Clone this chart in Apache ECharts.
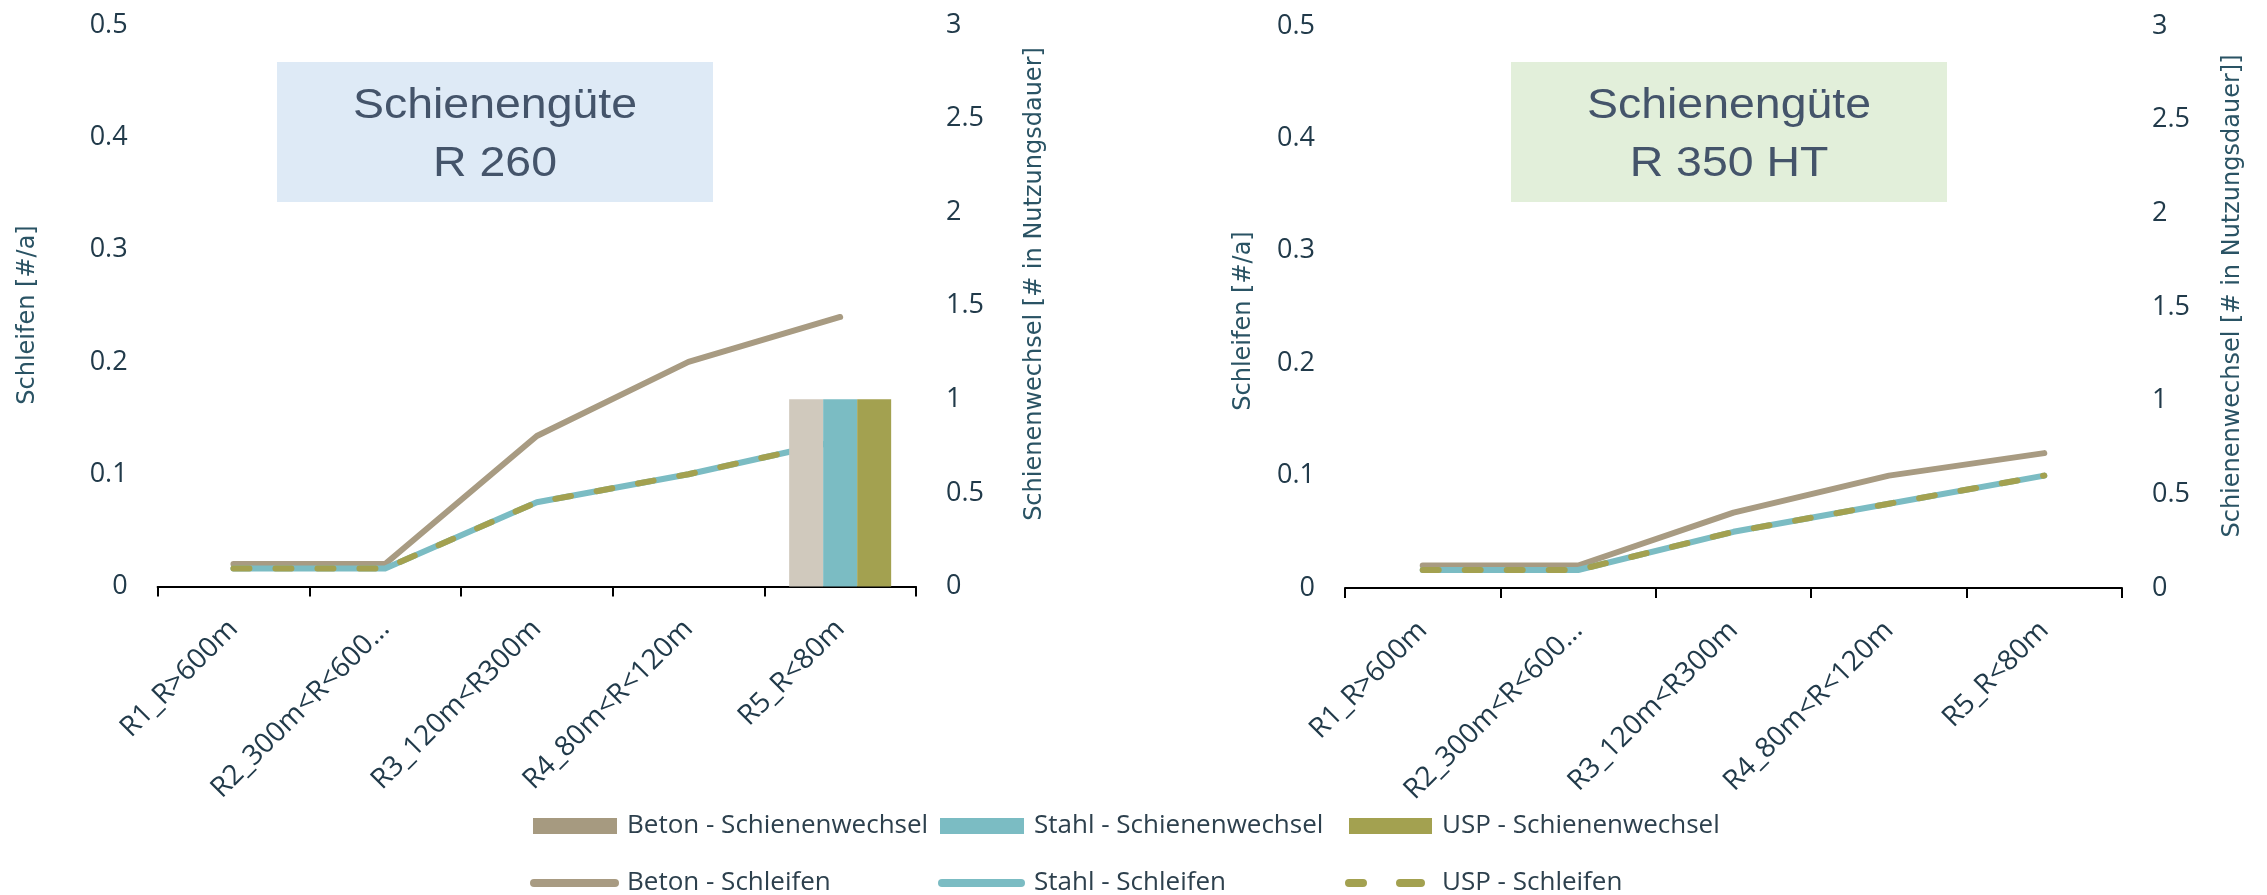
<!DOCTYPE html>
<html>
<head>
<meta charset="utf-8">
<script src="https://cdn.jsdelivr.net/npm/echarts@6/dist/echarts.min.js"></script>
<style>
  html, body { margin: 0; padding: 0; background: #ffffff; }
  #chart { width: 2267px; height: 895px; }
</style>
</head>
<body>
<div id="chart"></div>
<script>
// Curve-radius classes on the x axis
const categories = ['R1_R>600m', 'R2_300m<R<600m', 'R3_120m<R300m', 'R4_80m<R<120m', 'R5_R<80m'];

// Rail grade R 260 – grinding per year (left axis) and rail changes in service life (right axis)
const betonSchleifenR260 = [0.02, 0.02, 0.134, 0.2, 0.24];
const stahlSchleifenR260 = [0.016, 0.016, 0.075, 0.1, 0.13];
const uspSchleifenR260   = [0.016, 0.016, 0.075, 0.1, 0.13];
const betonWechselR260   = [0, 0, 0, 0, 1];
const stahlWechselR260   = [0, 0, 0, 0, 1];
const uspWechselR260     = [0, 0, 0, 0, 1];

// Rail grade R 350 HT
const betonSchleifenR350 = [0.02, 0.02, 0.067, 0.1, 0.12];
const stahlSchleifenR350 = [0.016, 0.016, 0.05, 0.075, 0.1];
const uspSchleifenR350   = [0.016, 0.016, 0.05, 0.075, 0.1];
const betonWechselR350   = [0, 0, 0, 0, 0];
const stahlWechselR350   = [0, 0, 0, 0, 0];
const uspWechselR350     = [0, 0, 0, 0, 0];

// Axis scales
const schleifenAxis = { min: 0, max: 0.5, interval: 0.1 };
const wechselAxis   = { min: 0, max: 3, interval: 0.5 };

// Panel texts
const panelTitles = [['Schienengüte', 'R 260'], ['Schienengüte', 'R 350 HT']];
const leftAxisNames = ['Schleifen [#/a]', 'Schleifen [#/a]'];
const rightAxisNames = ['Schienenwechsel [# in Nutzungsdauer]', 'Schienenwechsel [# in Nutzungsdauer]]'];

const NAMES = {
  betonW: 'Beton - Schienenwechsel',
  stahlW: 'Stahl - Schienenwechsel',
  uspW: 'USP - Schienenwechsel',
  betonS: 'Beton - Schleifen',
  stahlS: 'Stahl - Schleifen',
  uspS: 'USP - Schleifen'
};

const COL = {
  betonLine: '#A89B82',
  betonBar: '#D0C9BD',
  betonKey: '#A69A80',
  stahl: '#7BBCC3',
  usp: '#A3A150',
  tick: '#213A4A',
  axisName: '#2A5364',
  legendText: '#2D404D',
  title: '#44546A'
};

const panels = [
  {
    grid: { left: 157.6, top: 25, width: 758.4, height: 561.5 },
    box: { x: 277, y: 62, width: 436, height: 140, fill: '#DEEAF6' },
    leftName: { x: 28, y: 315 },
    rightName: { x: 1035, y: 284 },
    lines: [betonSchleifenR260, stahlSchleifenR260, uspSchleifenR260],
    bars: [betonWechselR260, stahlWechselR260, uspWechselR260]
  },
  {
    grid: { left: 1345, top: 26, width: 777, height: 562 },
    box: { x: 1511, y: 62, width: 436, height: 140, fill: '#E2EFDA' },
    leftName: { x: 1244, y: 321 },
    rightName: { x: 2233, y: 296 },
    lines: [betonSchleifenR350, stahlSchleifenR350, uspSchleifenR350],
    bars: [betonWechselR350, stahlWechselR350, uspWechselR350]
  }
];

const grids = [], xAxes = [], yAxes = [], series = [], graphics = [];

panels.forEach((p, i) => {
  grids.push(Object.assign({ containLabel: false }, p.grid));

  xAxes.push({
    type: 'category',
    gridIndex: i,
    data: categories,
    boundaryGap: true,
    axisLine: { show: true, lineStyle: { color: '#000000', width: 2 } },
    axisTick: { show: true, length: 10, interval: 0, lineStyle: { color: '#000000', width: 2 } },
    axisLabel: {
      interval: 0,
      rotate: 45,
      margin: 38,
      fontFamily: 'Open Sans',
      fontSize: 28,
      color: COL.tick,
      formatter: v => (v.length > 13 ? v.slice(0, 13) + '...' : v)
    },
    splitLine: { show: false }
  });

  yAxes.push({
    type: 'value',
    gridIndex: i,
    position: 'left',
    min: schleifenAxis.min, max: schleifenAxis.max, interval: schleifenAxis.interval,
    axisLine: { show: false }, axisTick: { show: false }, splitLine: { show: false },
    axisLabel: { margin: 30, fontFamily: 'Open Sans', fontSize: 27, color: COL.tick }
  });
  yAxes.push({
    type: 'value',
    gridIndex: i,
    position: 'right',
    min: wechselAxis.min, max: wechselAxis.max, interval: wechselAxis.interval,
    axisLine: { show: false }, axisTick: { show: false }, splitLine: { show: false },
    axisLabel: { margin: 30, fontFamily: 'Open Sans', fontSize: 27, color: COL.tick }
  });

  // Rail changes as grouped bars on the right axis, drawn above the lines
  const barDefs = [
    [NAMES.betonW, COL.betonBar],
    [NAMES.stahlW, COL.stahl],
    [NAMES.uspW, COL.usp]
  ];
  barDefs.forEach(([name, color], k) => {
    series.push({
      type: 'bar',
      name: name,
      xAxisIndex: i,
      yAxisIndex: 2 * i + 1,
      data: p.bars[k],
      barWidth: 34,
      barGap: '0%',
      itemStyle: { color: color },
      z: 5
    });
  });

  // Grinding intervals as lines on the left axis
  const lineDefs = [
    [NAMES.betonS, COL.betonLine, 'solid'],
    [NAMES.stahlS, COL.stahl, 'solid'],
    [NAMES.uspS, COL.usp, [16, 26]]
  ];
  lineDefs.forEach(([name, color, dash], k) => {
    series.push({
      type: 'line',
      name: name,
      xAxisIndex: i,
      yAxisIndex: 2 * i,
      data: p.lines[k],
      symbol: 'none',
      itemStyle: { color: color },
      lineStyle: { color: color, width: 6, type: dash, cap: 'round', join: 'round' },
      z: 2 + k * 0.1
    });
  });

  // Grade caption box
  graphics.push({
    type: 'rect',
    shape: { x: p.box.x, y: p.box.y, width: p.box.width, height: p.box.height },
    style: { fill: p.box.fill },
    z: 0
  });
  const cx = p.box.x + p.box.width / 2;
  [106, 164].forEach((ty, li) => {
    graphics.push({
      type: 'text',
      x: cx, y: ty,
      scaleX: 1.08,
      style: {
        text: panelTitles[i][li],
        fontFamily: 'Liberation Sans',
        fontSize: 43,
        fill: COL.title,
        align: 'center',
        verticalAlign: 'middle'
      },
      z: 1
    });
  });

  // Axis titles, reading bottom to top
  [[p.leftName, leftAxisNames[i]], [p.rightName, rightAxisNames[i]]].forEach(([pos, txt]) => {
    graphics.push({
      type: 'text',
      x: pos.x, y: pos.y,
      rotation: Math.PI / 2,
      style: {
        text: txt,
        fontFamily: 'DejaVu Sans',
        fontSize: 24,
        fill: COL.axisName,
        align: 'center',
        verticalAlign: 'middle'
      },
      z: 1
    });
  });
});

// Legend: two rows of three entries, one component per entry
const roundLine = w => `path://M4,0 H${w - 4} A4,4 0 0 1 ${w - 4},8 H4 A4,4 0 0 1 4,0 Z`;
const dashedLine = 'path://M4,0 H18 A4,4 0 0 1 18,8 H4 A4,4 0 0 1 4,0 Z M55,0 H76 A4,4 0 0 1 76,8 H55 A4,4 0 0 1 55,0 Z';

const legendEntries = [
  { name: NAMES.betonW, color: COL.betonKey, icon: 'rect', left: 533, top: 813, w: 84, h: 16, pad: 5 },
  { name: NAMES.stahlW, color: COL.stahl, icon: 'rect', left: 940, top: 813, w: 84, h: 16, pad: 5 },
  { name: NAMES.uspW, color: COL.usp, icon: 'rect', left: 1349, top: 813, w: 83, h: 16, pad: 5 },
  { name: NAMES.betonS, color: COL.betonLine, icon: roundLine(89), left: 530, top: 870, w: 89, h: 8, pad: 3 },
  { name: NAMES.stahlS, color: COL.stahl, icon: roundLine(87), left: 938, top: 870, w: 87, h: 8, pad: 4 },
  { name: NAMES.uspS, color: COL.usp, icon: dashedLine, left: 1345, top: 870, w: 80, h: 8, pad: 12 }
];

const legends = legendEntries.map(e => ({
  show: true,
  left: e.left,
  top: e.top,
  orient: 'horizontal',
  padding: 0,
  selectedMode: false,
  itemWidth: e.w,
  itemHeight: e.h,
  textStyle: {
    fontFamily: 'Open Sans',
    fontSize: 26,
    color: COL.legendText,
    padding: [0, 0, 0, e.pad]
  },
  data: [{
    name: e.name,
    icon: e.icon,
    itemStyle: { color: e.color, borderWidth: 0, opacity: 1 }
  }]
}));

const chart = echarts.init(document.getElementById('chart'), null, { renderer: 'canvas' });
chart.setOption({
  backgroundColor: '#ffffff',
  animation: false,
  grid: grids,
  xAxis: xAxes,
  yAxis: yAxes,
  legend: legends,
  series: series,
  graphic: graphics
});
</script>
</body>
</html>
